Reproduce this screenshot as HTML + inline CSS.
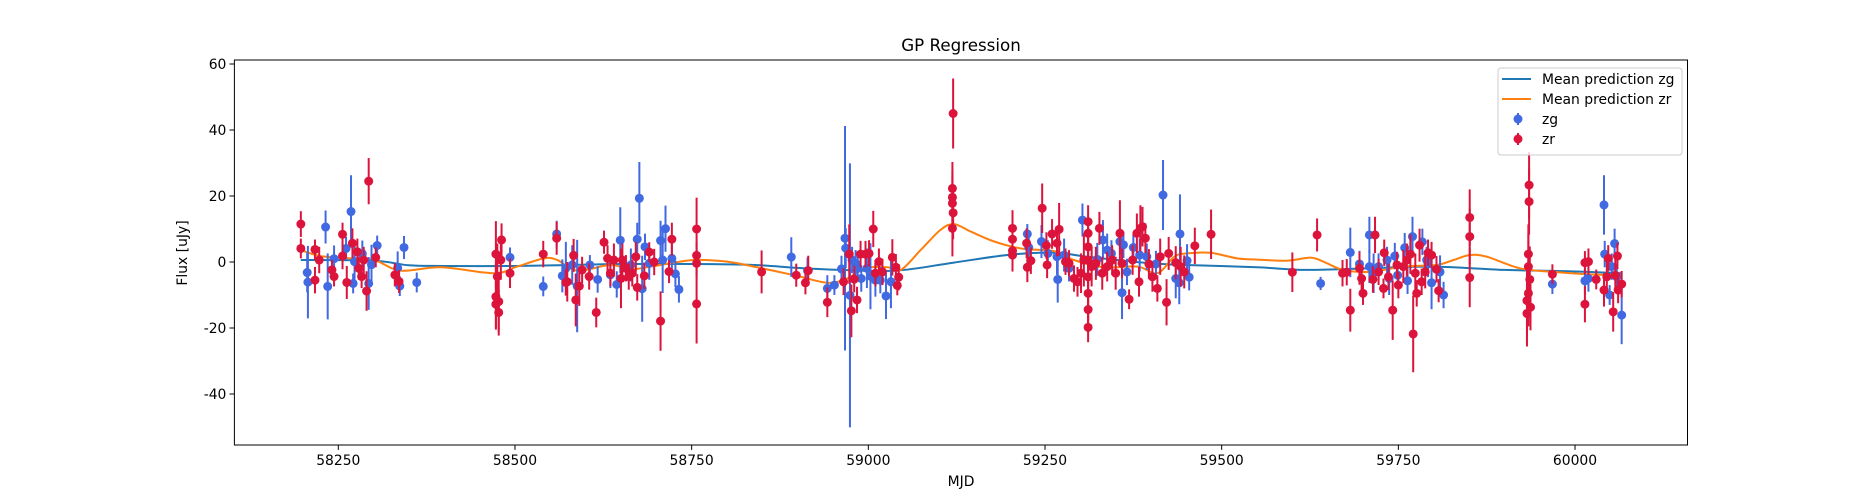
<!DOCTYPE html>
<html><head><meta charset="utf-8"><style>
html,body{margin:0;padding:0;background:#fff;}
svg{display:block;font-family:"DejaVu Sans","Liberation Sans",sans-serif;}
</style></head><body>
<svg id="chart" width="1875" height="500" viewBox="0 0 1875 500">
<rect x="0" y="0" width="1875" height="500" fill="#fff"/>
<text x="961" y="51" font-size="16.7" text-anchor="middle" fill="#000">GP Regression</text>
<text x="961" y="486" font-size="13.9" text-anchor="middle" fill="#000">MJD</text>
<text transform="translate(187,253) rotate(-90)" font-size="13.9" text-anchor="middle" fill="#000">Flux [uJy]</text>
<g id="lines"></g>
<g id="zg"></g>
<g id="zr"></g>
<g id="axes"></g>
<g>
<rect x="1498" y="68" width="184" height="87" rx="3" fill="#fff" fill-opacity="0.8" stroke="#ccc"/>
<line x1="1502" y1="79" x2="1531" y2="79" stroke="#1f77b4" stroke-width="2"/>
<text x="1542" y="84" font-size="13.9">Mean prediction zg</text>
<line x1="1502" y1="99" x2="1531" y2="99" stroke="#ff7f0e" stroke-width="2"/>
<text x="1542" y="104" font-size="13.9">Mean prediction zr</text>
<line x1="1518" y1="113" x2="1518" y2="125" stroke="#4169e1" stroke-width="2"/>
<circle cx="1518" cy="119" r="4.5" fill="#4169e1"/>
<text x="1542" y="124" font-size="13.9">zg</text>
<line x1="1518" y1="133" x2="1518" y2="145" stroke="#dc143c" stroke-width="2"/>
<circle cx="1518" cy="139" r="4.5" fill="#dc143c"/>
<text x="1542" y="144" font-size="13.9">zr</text>
</g>
</svg>
<script>
const xTicks=[58250,58500,58750,59000,59250,59500,59750,60000];
const yTicks=[-40,-20,0,20,40,60];
const zgMjd=[58206,58207,58232,58235,58244,58261,58268,58273,58271,58284,58293,58297,58305,58334,58337,58343,58361,58493,58540,58559,58567,58572,58581,58588,58606,58617,58635,58644,58649,58664,58673,58676,58680,58684,58690,58706,58709,58713,58722,58727,58732,58891,58914,58942,58952,58962,58967,58968,58974,58977,58982,58985,58990,58998,59003,59010,59017,59025,59032,59225,59227,59245,59254,59267,59268,59277,59284,59303,59324,59332,59338,59344,59356,59361,59359,59366,59375,59384,59394,59407,59417,59435,59440,59441,59451,59454,59640,59682,59695,59709,59709,59715,59722,59734,59737,59745,59749,59759,59763,59770,59784,59790,59792,59797,59809,59814,59968,60014,60019,60041,60042,60056,60052,60049,60066,60059];
const zgFlux=[-3.2,-6.1,10.6,-7.4,1,4.1,15.3,0.1,-6.5,2.5,-6.5,-0.8,5,-1.8,-7.3,4.4,-6.2,1.4,-7.4,8.5,-4.2,-1.9,-0.9,-7.3,-0.9,-5.3,-3.9,-6.8,6.6,-0.9,6.9,19.3,-8.1,4.6,-0.4,6.5,0.6,10.1,1.1,-3.6,-8.3,1.5,-2.6,-8,-7,-2.1,7.2,4.2,-10.1,0.6,-0.4,-1.9,-5,-1.9,-4.3,-5.5,-5.5,-10.3,-6,8.5,4.4,6.2,2.6,1.6,-5.3,2.1,-1.9,12.7,0.8,6.7,3.6,2.6,6.2,5.2,-9.3,-3,4.4,2.1,1.6,-0.6,20.3,-5,-6.3,8.5,0.4,-4.6,-6.5,2.9,-0.6,8.2,-1.4,-3.4,-1.4,0.6,-5,1.8,-4,4.3,-5.7,7.7,6.1,0.6,-0.6,-6.3,-3,-10,-6.7,-5.7,-5,17.3,2.4,5.6,-1.4,-10,-16.1,-4.5];
const zgErr=[6,11,5,10,4,3.5,11,6,3,4,8,6,3,5,3,3.5,3,3,3,4,5,8,6,14,3,4,4,4,10,5,5,11,10,4,5,6,10,7,5,4,4,6,4,4,3,4,34,6,40,4,4,4,4,6,10,5,4,7,8,3,4,5,4,5.5,7,5,4,5,5,6,5,4,4,4,8,4,4,5,4,4,10.6,6,6.5,12,5,4,2,7.5,4,5.5,5,6,4,4,5,4,4,4.5,4,6,4,4,4,8,5,4,3,4,4,9,4,4.5,4,3,8.8,4];
const zrMjd=[58197,58197,58217,58223,58217,58241,58244,58256,58256,58262,58270,58277,58279,58283,58286,58290,58293,58303,58330,58336,58473,58475,58473,58473,58477,58477,58481,58480,58493,58540,58559,58572,58574,58583,58586,58591,58595,58605,58615,58626,58631,58635,58640,58650,58652,58657,58661,58666,58671,58673,58683,58690,58697,58706,58718,58722,58757,58757,58757,58757,58849,58898,58911,58915,58942,58965,58973,58976,58980,58984,58989,58996,59001,59007,59010,59015,59020,59034,59039,59043,59041,59120,59119,59119,59119,59120,59119,59204,59204,59204,59204,59224,59225,59230,59246,59252,59253,59260,59267,59270,59279,59284,59291,59296,59301,59305,59311,59311,59311,59311,59311,59311,59311,59311,59316,59322,59327,59331,59338,59345,59350,59356,59359,59369,59374,59380,59385,59388,59392,59383,59397,59402,59409,59413,59422,59425,59435,59442,59447,59462,59485,59600,59635,59671,59677,59682,59695,59698,59700,59714,59717,59722,59729,59730,59736,59742,59748,59750,59757,59762,59767,59771,59774,59776,59780,59783,59788,59792,59797,59804,59807,59851,59851,59851,59935,59935,59934,59934,59936,59934,59932,59937,59932,59968,60014,60014,60019,60030,60041,60045,60047,60054,60057,60060,60061,60066];
const zrFlux=[11.5,4.1,3.8,0.6,-5.5,-2.4,-4.4,8.4,1.8,-6.2,5.7,3.1,-1.9,-4.4,0.6,-8.8,24.5,1.4,-3.9,-5.9,2.4,-4.4,-10.5,-12.8,-12,-15.3,6.7,0.6,-3.4,2.4,7.2,-6.2,-6,2,-11.5,-7.3,-2.4,-4.4,-15.3,6,1.1,-3.4,0.6,-5,0.6,-1.9,-4.4,-3.4,1.6,-7.7,-4.2,3,0,-17.9,-2.9,6.9,10,2,-0.4,-12.7,-3,-4,-6.3,-2.6,-12.2,-6,2.4,-14.8,-5.2,-11.5,2.4,2.4,2.6,10,-3.4,0.1,-3,1.4,-1.6,-4.6,-7.1,45,22.3,19.6,17.8,14.9,10.2,10.2,6.9,3.4,2.1,5.7,-1.6,0.4,16.3,5,-0.9,8.5,5.7,9.9,0.1,-0.4,-5,-6,-3.4,0.6,12.2,8.7,4.6,0.6,-4.5,-9.5,-14.4,-19.8,-1.4,-0.4,10.2,-3.4,-1.4,0.6,-3.4,8.7,-0.4,-11.3,0.6,8.7,10.2,10.7,7.2,-6,-0.6,-4.5,-8,1.6,-12.2,2.6,-0.2,-1.4,-3,4.9,8.4,-3.1,8.2,-3.4,-3.1,-14.6,-1.9,-5,-9.5,-5.3,8.2,-3,-8,2.8,-4.5,-14.6,-0.9,-7,-1.4,0.6,2.4,-21.8,-3.4,-9.5,5.1,-6,-3,2.8,2.1,-2.2,-8.7,13.5,7.7,-4.7,23.3,18.3,2.4,-1.4,-5.3,-9.5,-11.7,-13.7,-15.6,-3.7,-0.2,-12.8,0.1,-5.3,-8.5,-4.5,1.1,-15.1,-4,1.8,-8.5,-6.7];
const zrErr=[3.9,3,3,4,4,3,3,3.5,4,5,4.5,4,3.5,3.5,4,6,7,3,3.5,3.5,10,10,10,7,9,7,5,6,4.5,4,5,4,6,5,8,6,4,4,4.5,3.5,4,4,5,9,5,4,4,4,4.5,4,4,3,4,9,3.5,5,9.5,4,4,12,6.5,3.5,3.5,4.5,4.5,4,9,8,4,4,4,4,4,5.5,4,4,4,5.5,4,4,3,10.6,8,8,8,8,8.5,5.5,5.5,5,5,4.5,4.5,4,7.5,4,4,4.5,4,8,4,4,4,4.5,6,8,5,5,6,8,9,8,7,4.5,6,5,5,5,4.5,4.5,5,10,4.5,3,4.5,6,7,6,4.5,4.5,4.5,4.5,4,5.5,7,5,5,6,5,5.5,7.5,6,5,4,4,6.5,5,4,3.5,4,5.5,4,3,4,4,9,4,4,5,5,6,11.6,6,4,5,4,5,4,4,4,3.5,8.5,8.5,9,10,10,9,10,10,10,11,7,10,3,3.5,5.5,4,3,5,5,4,6,5,4,4,4];
const predZgMjd=[58197,58300,58350,58400,58500,58560,58650,58750,58838,58900,58960,59040,59120,59200,59265,59310,59400,59450,59550,59620,59710,59800,59900,59990,60066];
const predZgFlux=[0.6,0.4,-1,-1.2,-1.2,-1.0,-0.6,-0.6,-0.9,-1.8,-2.4,-2.6,-0.2,2.2,2.8,1.6,-0.4,-0.9,-1.6,-2.4,-1.9,-1.4,-2.4,-2.8,-3.4];
const predZrMjd=[58197,58225,58267,58301,58338,58395,58470,58503,58541,58560,58588,58635,58664,58697,58753,58801,58838,58895,58942,58970,58994,59027,59046,59074,59102,59121,59145,59178,59216,59249,59267,59291,59333,59381,59409,59433,59451,59484,59522,59545,59592,59627,59649,59672,59710,59757,59804,59828,59851,59875,59922,59969,60017,60064];
const predZrFlux=[3.6,1.8,1.1,0.6,-2.6,-1.6,-3.4,-1.4,1.1,0.6,-2.6,-0.9,-2.2,-1.2,0.6,0.1,-1.4,-4,-6.3,-5,-1.9,-1.6,-2.4,3.6,9.7,11.5,9.2,6.2,4.1,3.6,3.1,0.6,-1.6,-1.4,-3.4,1.6,2.6,2.8,1.1,0.8,0.4,1.3,-0.4,-2.4,-3,-1.4,-0.9,0.6,2.1,1.6,-1.9,-3,-3.7,-4];

const NS='http://www.w3.org/2000/svg';
const L=234.4,R=1687.5,T=60,B=445;
function xs(v){return 338.3+(v-58250)*0.7067;}
function ys(v){return 262-v*3.3;}
function mk(tag,attrs,parent){const e=document.createElementNS(NS,tag);for(const k in attrs)e.setAttribute(k,attrs[k]);parent.appendChild(e);return e;}

const axes=document.getElementById('axes');
const frame=mk('rect',{x:L,y:T,width:R-L,height:B-T,fill:'none',stroke:'#000','stroke-width':1},axes);


xTicks.forEach(t=>{
  const x=xs(t);
  const tk=mk('line',{x1:x,y1:B,x2:x,y2:B+4.9,stroke:'#000','stroke-width':1},axes);
  
  
  const lb=mk('text',{x:x,y:B+20,'font-size':13.9,'text-anchor':'middle'},axes);
  lb.textContent=t;
  
  
});
yTicks.forEach(t=>{
  const y=ys(t);
  const tk=mk('line',{x1:L-4.9,y1:y,x2:L,y2:y,stroke:'#000','stroke-width':1},axes);
  
  
  const lb=mk('text',{x:L-8,y:y+5,'font-size':13.9,'text-anchor':'end'},axes);
  lb.textContent=t;
  
  
});

const lines=document.getElementById('lines');
function line(xsA,ysA,color,name){
  const P=xsA.map((v,i)=>[xs(v),ys(ysA[i])]);
  let d='M'+P[0][0].toFixed(1)+','+P[0][1].toFixed(1);
  for(let i=0;i<P.length-1;i++){
    const p0=P[Math.max(0,i-1)],p1=P[i],p2=P[i+1],p3=P[Math.min(P.length-1,i+2)];
    const c1x=p1[0]+(p2[0]-p0[0])/6,c1y=p1[1]+(p2[1]-p0[1])/6;
    const c2x=p2[0]-(p3[0]-p1[0])/6,c2y=p2[1]-(p3[1]-p1[1])/6;
    d+=' C'+c1x.toFixed(1)+','+c1y.toFixed(1)+' '+c2x.toFixed(1)+','+c2y.toFixed(1)+' '+p2[0].toFixed(1)+','+p2[1].toFixed(1);
  }
  const p=mk('path',{d:d,fill:'none',stroke:color,'stroke-width':2,'stroke-linejoin':'round'},lines);
  
  
}
line(predZgMjd,predZgFlux,'#1f77b4','mean-prediction-zg');
line(predZrMjd,predZrFlux,'#ff7f0e','mean-prediction-zr');

function series(id,mj,fl,er,color,name){
  const g=document.getElementById(id);
  mj.forEach((m,i)=>{
    const x=xs(m);
    const e=mk('line',{x1:x,y1:ys(fl[i]+er[i]),x2:x,y2:ys(fl[i]-er[i]),stroke:color,'stroke-width':2},g);
    
    
  });
  mj.forEach((m,i)=>{
    const c=mk('circle',{cx:xs(m),cy:ys(fl[i]),r:4.5,fill:color},g);
    
    
  });
}
series('zg',zgMjd,zgFlux,zgErr,'#4169e1','zg');
series('zr',zrMjd,zrFlux,zrErr,'#dc143c','zr');
</script>
</body></html>
